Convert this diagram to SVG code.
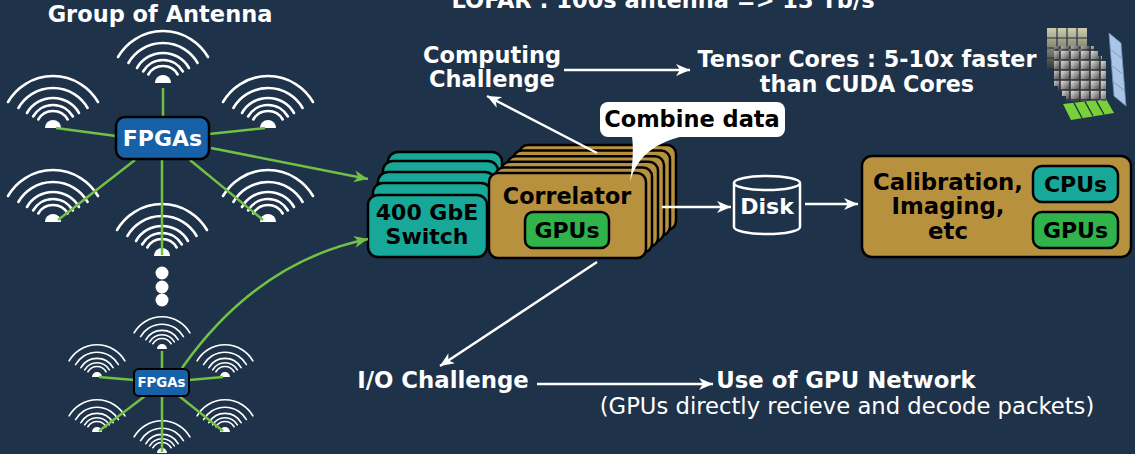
<svg xmlns="http://www.w3.org/2000/svg" xmlns:xlink="http://www.w3.org/1999/xlink" width="1135" height="454" viewBox="0 0 1135 454">
  <style>
    .t { font-family: "DejaVu Sans", "Noto Sans", sans-serif; font-weight: bold; }
    .tw { fill: #ffffff; }
    .tb { fill: #000000; }
    .reg { font-weight: normal; }
    .box { stroke: #000000; stroke-width: 2.5; }
    .gold { fill: #b8913f; }
    .teal { fill: #17a899; }
    .gpu { fill: #2fb34a; }
    .fpga { fill: #1761a8; }
    .link { stroke: #72c046; stroke-width: 2.5; fill: none; }
    .warr { stroke: #ffffff; stroke-width: 2.5; fill: none; }
    .arc { stroke: #ffffff; stroke-width: 2.6; fill: none; stroke-linecap: round; }
  </style>
  <defs>
    <marker id="wh" markerUnits="userSpaceOnUse" markerWidth="16" markerHeight="14" refX="14" refY="6" orient="auto">
      <path d="M0,0 L14,6 L0,12 L4,6 Z" fill="#ffffff"/>
    </marker>
    <marker id="gh" markerUnits="userSpaceOnUse" markerWidth="16" markerHeight="14" refX="14" refY="6" orient="auto">
      <path d="M0,0 L14,6 L0,12 L4,6 Z" fill="#72c046"/>
    </marker>
    <!-- radio antenna: base point at (0,0) -->
    <g id="antenna">
      <path class="arc" d="M-45,-26 A52,52 0 0 1 45,-26"/>
      <path class="arc" d="M-34.6,-20 A40,40 0 0 1 34.6,-20"/>
      <path class="arc" d="M-26,-15 A30,30 0 0 1 26,-15"/>
      <path class="arc" d="M-19.9,-11.5 A23,23 0 0 1 19.9,-11.5"/>
      <path class="arc" d="M-14.7,-8.5 A17,17 0 0 1 14.7,-8.5"/>
      <path d="M-8,0 A8,8 0 0 1 8,0 Z" fill="#ffffff"/>
    </g>
    <linearGradient id="cell" x1="0" y1="0" x2="1" y2="1">
      <stop offset="0" stop-color="#e6e6e6"/>
      <stop offset="0.5" stop-color="#9a9a9a"/>
      <stop offset="1" stop-color="#4a4a4a"/>
    </linearGradient>
    <linearGradient id="fade" x1="0" y1="0" x2="0" y2="1">
      <stop offset="0" stop-color="#e4dfb8"/>
      <stop offset="1" stop-color="#3a3d35"/>
    </linearGradient>
    <pattern id="cells" width="10" height="10" patternUnits="userSpaceOnUse">
      <rect x="0.5" y="0.5" width="9" height="9" rx="1.2" fill="url(#cell)" stroke="#2a2a2a" stroke-width="0.6"/>
    </pattern>
  </defs>

  <rect width="1135" height="454" fill="#1e3249"/>

  <!-- headings -->
  <g id="title">
    <text class="t tw" x="663" y="8" font-size="22.5" text-anchor="middle">LOFAR : 100s antenna =&gt; 13 Tb/s</text>
  </g>
  <g id="group-label">
    <text class="t tw" x="160" y="22" font-size="22.5" text-anchor="middle">Group of Antenna</text>
  </g>

  <!-- antenna group (large) -->
  <g id="antennas-top">
    <use xlink:href="#antenna" transform="translate(163,83)"/>
    <use xlink:href="#antenna" transform="translate(53,128)"/>
    <use xlink:href="#antenna" transform="translate(268,128)"/>
    <use xlink:href="#antenna" transform="translate(53,222)"/>
    <use xlink:href="#antenna" transform="translate(268,222)"/>
    <use xlink:href="#antenna" transform="translate(162,256)"/>
  </g>

  <!-- ellipsis dots -->
  <g id="more-dots" fill="#ffffff">
    <circle cx="162" cy="273" r="6.5"/>
    <circle cx="162" cy="287" r="6.5"/>
    <circle cx="162" cy="300" r="6.5"/>
  </g>

  <!-- antenna group (small) -->
  <g id="antennas-bottom">
    <use xlink:href="#antenna" transform="translate(162,349) scale(0.62)"/>
    <use xlink:href="#antenna" transform="translate(97,377) scale(0.62)"/>
    <use xlink:href="#antenna" transform="translate(225,377) scale(0.62)"/>
    <use xlink:href="#antenna" transform="translate(97,432) scale(0.62)"/>
    <use xlink:href="#antenna" transform="translate(225,432) scale(0.62)"/>
    <use xlink:href="#antenna" transform="translate(162,453) scale(0.62)"/>
  </g>

  <!-- 400 GbE switch stack -->
  <g id="switch">
    <rect class="box teal" x="388" y="152" width="114" height="62" rx="10"/>
    <rect class="box teal" x="383" y="161" width="115" height="62" rx="10"/>
    <rect class="box teal" x="378" y="172" width="117" height="62" rx="10"/>
    <rect class="box teal" x="373" y="183" width="118" height="62" rx="10"/>
    <rect class="box teal" x="368" y="195" width="119" height="62" rx="10"/>
    <text class="t tb" x="427" y="220" font-size="22" text-anchor="middle">400 GbE</text>
    <text class="t tb" x="427" y="244" font-size="22" text-anchor="middle">Switch</text>
  </g>

  <!-- correlator stack -->
  <g id="correlator">
    <rect class="box gold" x="519" y="145" width="157" height="85" rx="9"/>
    <rect class="box gold" x="513" y="150.6" width="157" height="85" rx="9"/>
    <rect class="box gold" x="507" y="156.2" width="157" height="85" rx="9"/>
    <rect class="box gold" x="501" y="161.8" width="157" height="85" rx="9"/>
    <rect class="box gold" x="495" y="167.4" width="157" height="85" rx="9"/>
    <rect class="box gold" x="489" y="173" width="157" height="85" rx="9"/>
    <text class="t tb" x="567" y="204" font-size="22.3" text-anchor="middle">Correlator</text>
    <rect class="box gpu" x="525" y="212" width="84" height="36" rx="8"/>
    <text class="t tb" x="567" y="238" font-size="22" text-anchor="middle">GPUs</text>
  </g>

  <!-- disk -->
  <g id="disk">
    <path d="M734,183 V227 A33,7 0 0 0 800,227 V183" fill="#1e3249" stroke="#ffffff" stroke-width="2.5"/>
    <ellipse cx="767" cy="183" rx="33" ry="7" fill="#1e3249" stroke="#ffffff" stroke-width="2.5"/>
    <text class="t tw" x="767" y="214" font-size="22" text-anchor="middle">Disk</text>
  </g>

  <!-- calibration / imaging -->
  <g id="processing">
    <rect class="box gold" x="862" y="156" width="269" height="101" rx="10"/>
    <text class="t tb" x="948" y="190" font-size="22.8" text-anchor="middle">Calibration,</text>
    <text class="t tb" x="948" y="214" font-size="22.8" text-anchor="middle">Imaging,</text>
    <text class="t tb" x="948" y="239" font-size="22.8" text-anchor="middle">etc</text>
    <rect class="box teal" x="1033" y="166" width="85" height="36" rx="9"/>
    <text class="t tb" x="1075.5" y="192" font-size="22" text-anchor="middle">CPUs</text>
    <rect class="box gpu" x="1033" y="212" width="85" height="36" rx="9"/>
    <text class="t tb" x="1075.5" y="238" font-size="22" text-anchor="middle">GPUs</text>
  </g>

  <!-- text notes -->
  <g id="computing-challenge">
    <text class="t tw" x="492" y="63" font-size="22.5" text-anchor="middle">Computing</text>
    <text class="t tw" x="492" y="87" font-size="22.5" text-anchor="middle">Challenge</text>
  </g>
  <g id="tensor-cores">
    <text class="t tw" x="867" y="67" font-size="22.3" text-anchor="middle">Tensor Cores : 5-10x faster</text>
    <text class="t tw" x="867" y="92" font-size="22.3" text-anchor="middle">than CUDA Cores</text>
  </g>
  <g id="io-challenge">
    <text class="t tw" x="443" y="388" font-size="22.8" text-anchor="middle">I/O Challenge</text>
  </g>
  <g id="gpu-network">
    <text class="t tw" x="846" y="388" font-size="22.8" text-anchor="middle">Use of GPU Network</text>
    <text class="t tw reg" x="847" y="414" font-size="22.7" text-anchor="middle">(GPUs directly recieve and decode packets)</text>
  </g>

  <!-- tensor core illustration -->
  <g id="tensor-icon">
    <rect x="1047" y="28" width="40" height="40" fill="url(#fade)" opacity="0.9"/>
    <path d="M1057,28 V68 M1067,28 V68 M1077,28 V68 M1047,38 H1087 M1047,48 H1087 M1047,58 H1087" stroke="#1e3249" stroke-width="1.2"/>
    <polygon points="1109,33 1121,43 1126,106 1114,96" fill="#a9c6e6" stroke="#6f8fb5" stroke-width="0.8"/>
    <path d="M1110,49 L1123,59 M1111,65 L1124,75 M1112,81 L1125,91" stroke="#6f8fb5" stroke-width="0.8"/>
    <polygon points="1063,104 1106,99 1114,113 1071,120" fill="#78d13a"/>
    <path d="M1074,103 L1082,118 M1085,101.7 L1093,116 M1096,100.4 L1104,114.5" stroke="#1e3249" stroke-width="1.4"/>
    <rect x="1054" y="46" width="40" height="40" fill="url(#cells)"/>
    <rect x="1058" y="51" width="40" height="40" fill="url(#cells)"/>
    <rect x="1062" y="56" width="40" height="40" fill="url(#cells)"/>
    <rect x="1066" y="61" width="40" height="40" fill="url(#cells)"/>
  </g>

  <!-- connectors -->
  <g id="connectors">
    <!-- antenna links, large group -->
    <path class="link" d="M163,117 V88"/>
    <path class="link" d="M116,136 L56,128"/>
    <path class="link" d="M209,134 L265,128"/>
    <path class="link" d="M135,160 L58,220"/>
    <path class="link" d="M190,160 L263,220"/>
    <path class="link" d="M162,160 V255"/>
    <!-- antenna links, small group -->
    <path class="link" d="M162,369 V351" stroke-width="2"/>
    <path class="link" d="M134,380 L99,377" stroke-width="2"/>
    <path class="link" d="M189,380 L223,377" stroke-width="2"/>
    <path class="link" d="M145,396 L99,431" stroke-width="2"/>
    <path class="link" d="M179,396 L223,431" stroke-width="2"/>
    <path class="link" d="M162,396 V452" stroke-width="2"/>
    <!-- FPGAs to switch -->
    <path class="link" d="M211,148 L368,179" marker-end="url(#gh)"/>
    <path class="link" d="M182,368 C230,300 290,255 368,239" marker-end="url(#gh)"/>
    <!-- data flow -->
    <path class="warr" d="M662,207 H731" marker-end="url(#wh)"/>
    <path class="warr" d="M805,204 H858" marker-end="url(#wh)"/>
    <!-- challenges -->
    <path class="warr" d="M597,153 L487,96" marker-end="url(#wh)"/>
    <path class="warr" d="M564,70 H690" marker-end="url(#wh)"/>
    <path class="warr" d="M597,262 L440,366" marker-end="url(#wh)"/>
    <path class="warr" d="M537,384 H713" marker-end="url(#wh)"/>
  </g>

  <!-- FPGA boards -->
  <g id="fpga-top">
    <rect class="box fpga" x="116" y="117" width="93" height="42" rx="9"/>
    <text class="t tw" x="162.5" y="146" font-size="22" text-anchor="middle">FPGAs</text>
  </g>
  <g id="fpga-bottom">
    <rect class="fpga" x="134" y="369" width="55" height="27" rx="5" stroke="#000000" stroke-width="2"/>
    <text class="t tw" x="161.5" y="387" font-size="13.3" text-anchor="middle">FPGAs</text>
  </g>

  <!-- callout -->
  <g id="combine-data">
    <path d="M632,136 C634,152 632,168 630,182 C636,160 650,144 684,136 Z" fill="#ffffff"/>
    <rect x="600" y="102" width="185" height="35" rx="8" fill="#ffffff"/>
    <text class="t tb" x="692" y="127" font-size="22.5" text-anchor="middle">Combine data</text>
  </g>
</svg>
